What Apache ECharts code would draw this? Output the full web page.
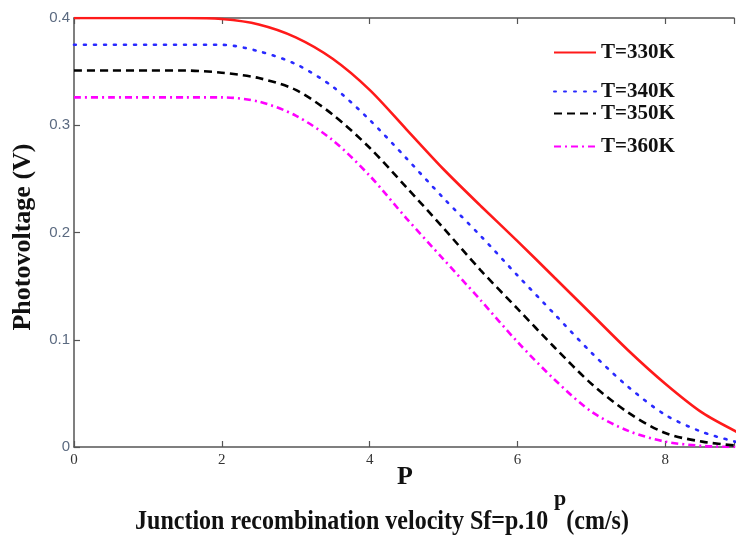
<!DOCTYPE html>
<html>
<head>
<meta charset="utf-8">
<script src="https://cdn.jsdelivr.net/npm/echarts@6/dist/echarts.min.js"></script>
<style>html,body{margin:0;padding:0;background:#fff}#c{width:737px;height:536px}</style>
</head>
<body>
<div id="c"></div>
<script>
const pValues = [0, 0.5, 1, 1.5, 2, 2.5, 3, 3.5, 4, 4.5, 5, 5.5, 6, 6.5, 7, 7.5, 8, 8.5, 9];
const v330 = [0.400, 0.400, 0.400, 0.400, 0.399, 0.394, 0.382, 0.362, 0.333, 0.296, 0.259, 0.225, 0.192, 0.158, 0.124, 0.090, 0.059, 0.032, 0.013];
const v340 = [0.375, 0.375, 0.375, 0.375, 0.375, 0.369, 0.357, 0.336, 0.305, 0.269, 0.232, 0.197, 0.160, 0.124, 0.088, 0.056, 0.030, 0.014, 0.004];
const v350 = [0.351, 0.351, 0.351, 0.351, 0.349, 0.344, 0.333, 0.310, 0.279, 0.242, 0.204, 0.165, 0.129, 0.093, 0.059, 0.032, 0.013, 0.005, 0.001];
const v360 = [0.326, 0.326, 0.326, 0.326, 0.326, 0.322, 0.309, 0.286, 0.253, 0.213, 0.175, 0.137, 0.098, 0.063, 0.033, 0.015, 0.005, 0.001, 0.000];
const seriesNames = ['T=330K', 'T=340K', 'T=350K', 'T=360K'];
const xTicks = [0, 2, 4, 6, 8];
const yTicks = [0, 0.1, 0.2, 0.3, 0.4];

const pairs = ys => pValues.map((x, i) => [x, ys[i]]);
const styles = [
  {color: '#ff1a1a', type: 'solid', width: 2.6},
  {color: '#2a2aff', type: [2, 8], width: 2.6, cap: 'round'},
  {color: '#000000', type: [8, 5], width: 2.6},
  {color: '#ff00ff', type: [7, 4, 2, 4], width: 2.6}
];
const allData = [v330, v340, v350, v360];
const legendTops = [37, 76, 98, 131];

const chart = echarts.init(document.getElementById('c'));
const axisCommon = {
  type: 'value', min: 0, max: 8.93, interval: 2,
  axisLine: {show: true, lineStyle: {color: '#555', width: 1.5}},
  axisTick: {show: true, inside: true, length: 6, lineStyle: {color: '#555', width: 1.2}},
  splitLine: {show: false}
};
chart.setOption({
  animation: false,
  backgroundColor: '#fff',
  grid: {left: 74, right: 0, top: 18, bottom: 89},
  xAxis: [
    Object.assign({}, axisCommon, {
      position: 'bottom',
      axisLabel: {show: true, color: '#333', fontFamily: 'Liberation Serif', fontSize: 15, margin: 6,
        formatter: v => xTicks.includes(v) ? String(v) : ''}
    }),
    Object.assign({}, axisCommon, {position: 'top', axisLabel: {show: false}})
  ],
  yAxis: {
    type: 'value', min: 0, max: 0.4, interval: 0.1,
    axisLine: {show: true, lineStyle: {color: '#555', width: 1.5}},
    axisTick: {show: true, inside: true, length: 6, lineStyle: {color: '#555', width: 1.2}},
    splitLine: {show: false},
    axisLabel: {color: '#5b6a80', fontFamily: 'Liberation Sans', fontSize: 15, margin: 4,
      formatter: v => { const t = yTicks.find(k => Math.abs(k - v) < 1e-9); return t === 0 ? '0' : String(t); }}
  },
  legend: seriesNames.map((n, i) => ({
    data: [n], left: 548, top: legendTops[i], itemWidth: 42, itemHeight: 14, itemGap: 0,
    itemStyle: {opacity: 0},
    textStyle: {fontFamily: 'Liberation Serif', fontWeight: 'bold', fontSize: 21, color: '#111'}
  })),
  series: seriesNames.map((n, i) => ({
    name: n, type: 'line', data: pairs(allData[i]), showSymbol: false, symbol: 'none',
    smooth: 0.3,
    lineStyle: styles[i], itemStyle: {color: styles[i].color}, z: 10 - i
  })),
  graphic: [
    {type: 'text', x: 23, y: 237, rotation: Math.PI / 2,
      style: {text: 'Photovoltage (V)', font: 'bold 26px "Liberation Serif"', fill: '#111', textAlign: 'center', textVerticalAlign: 'middle'}},
    {type: 'text', x: 405, y: 477,
      style: {text: 'P', font: 'bold 26px "Liberation Serif"', fill: '#111', textAlign: 'center', textVerticalAlign: 'middle'}},
    {type: 'text', x: 382, y: 522, scaleY: 1.1,
      style: {text: 'Junction recombination velocity Sf=p.10   (cm/s)', font: 'bold 24px "Liberation Serif"', fill: '#111', textAlign: 'center', textVerticalAlign: 'middle'}},
    {type: 'text', x: 560, y: 499,
      style: {text: 'p', font: 'bold 22px "Liberation Serif"', fill: '#111', textAlign: 'center', textVerticalAlign: 'middle'}}
  ]
});
</script>
</body>
</html>
